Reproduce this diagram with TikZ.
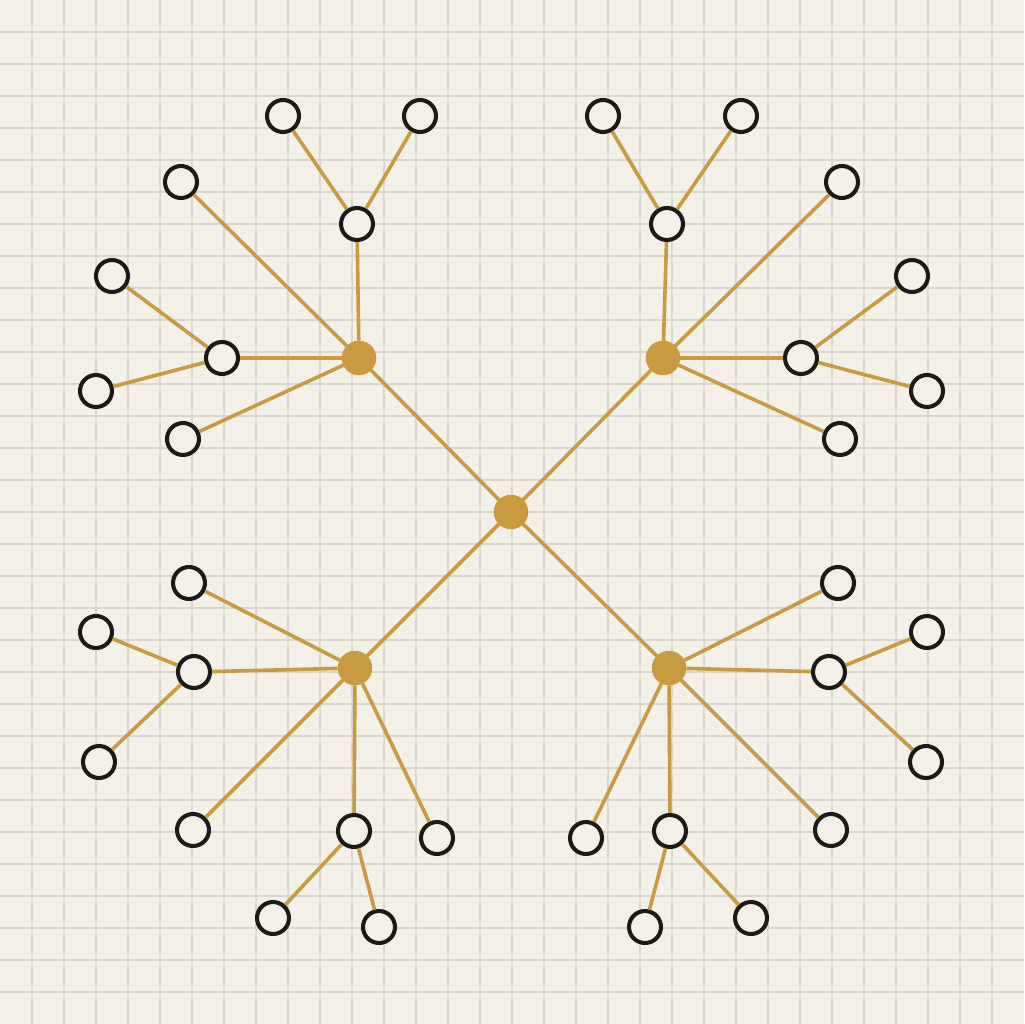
\documentclass[tikz,border=0pt]{standalone}
\usepackage{tikz}

\definecolor{paper}{HTML}{F3F0E7}
\definecolor{gridgray}{HTML}{DAD6CD}
\definecolor{gold}{HTML}{C99A40}
\definecolor{ink}{HTML}{1C1A17}

\tikzset{hub/.style={fill=gold,draw=none,outer sep=0pt,minimum size=1.08cm}}

\begin{document}
\begin{tikzpicture}[x=0.03125cm,y=-0.03125cm]
            \fill[paper] (0,0) rectangle (1024,1024);
            \useasboundingbox (0,0) rectangle (1024,1024);
            \foreach \g in {32,64,...,992} {
                \draw[gridgray,line width=1pt] (\g,0) -- (\g,1024);
                \draw[gridgray,line width=1pt] (0,\g) -- (1024,\g);
            }
            \begin{scope}[every node/.style={fill=paper,circle,draw=ink,line width=3.6pt,inner sep=0pt,minimum size=1cm}]
                \node[hub] (0) at (511,512) {};

                % upper left
                \node[hub] (1) at (359,358) {};
                \node (2) at (357,224) {};
                \node (3) at (283,116) {};
                \node (4) at (420,116) {};
                \node (5) at (181,182) {};
                \node (6) at (222,358) {};
                \node (7) at (112,276) {};
                \node (8) at (96,391) {};
                \node (9) at (183,439) {};

                % upper right
                \node[hub] (10) at (663,358) {};
                \node (11) at (667,224) {};
                \node (12) at (603,116) {};
                \node (13) at (741,116) {};
                \node (14) at (842,182) {};
                \node (15) at (801,358) {};
                \node (16) at (912,276) {};
                \node (17) at (927,391) {};
                \node (18) at (840,439) {};

                % lower left
                \node[hub] (19) at (355,668) {};
                \node (20) at (189,583) {};
                \node (21) at (194,672) {};
                \node (22) at (96,632) {};
                \node (23) at (99,762) {};
                \node (24) at (193,830) {};
                \node (25) at (354,831) {};
                \node (26) at (273,918) {};
                \node (27) at (379,927) {};
                \node (28) at (437,838) {};

                % lower right
                \node[hub] (29) at (669,668) {};
                \node (30) at (838,583) {};
                \node (31) at (829,672) {};
                \node (32) at (927,632) {};
                \node (33) at (926,762) {};
                \node (34) at (831,830) {};
                \node (35) at (670,831) {};
                \node (36) at (645,927) {};
                \node (37) at (751,918) {};
                \node (38) at (586,838) {};
            \end{scope}
            \begin{scope}[every edge/.style={draw=gold,line width=3.2pt}]
                \path [-] (0) edge node {} (1);
                \path [-] (0) edge node {} (10);
                \path [-] (0) edge node {} (19);
                \path [-] (0) edge node {} (29);

                \path [-] (1) edge node {} (2);
                \path [-] (2) edge node {} (3);
                \path [-] (2) edge node {} (4);
                \path [-] (1) edge node {} (5);
                \path [-] (1) edge node {} (6);
                \path [-] (6) edge node {} (7);
                \path [-] (6) edge node {} (8);
                \path [-] (1) edge node {} (9);

                \path [-] (10) edge node {} (11);
                \path [-] (11) edge node {} (12);
                \path [-] (11) edge node {} (13);
                \path [-] (10) edge node {} (14);
                \path [-] (10) edge node {} (15);
                \path [-] (15) edge node {} (16);
                \path [-] (15) edge node {} (17);
                \path [-] (10) edge node {} (18);

                \path [-] (19) edge node {} (20);
                \path [-] (19) edge node {} (21);
                \path [-] (21) edge node {} (22);
                \path [-] (21) edge node {} (23);
                \path [-] (19) edge node {} (24);
                \path [-] (19) edge node {} (25);
                \path [-] (25) edge node {} (26);
                \path [-] (25) edge node {} (27);
                \path [-] (19) edge node {} (28);

                \path [-] (29) edge node {} (30);
                \path [-] (29) edge node {} (31);
                \path [-] (31) edge node {} (32);
                \path [-] (31) edge node {} (33);
                \path [-] (29) edge node {} (34);
                \path [-] (29) edge node {} (35);
                \path [-] (35) edge node {} (36);
                \path [-] (35) edge node {} (37);
                \path [-] (29) edge node {} (38);
            \end{scope}
        \end{tikzpicture}
\end{document}
